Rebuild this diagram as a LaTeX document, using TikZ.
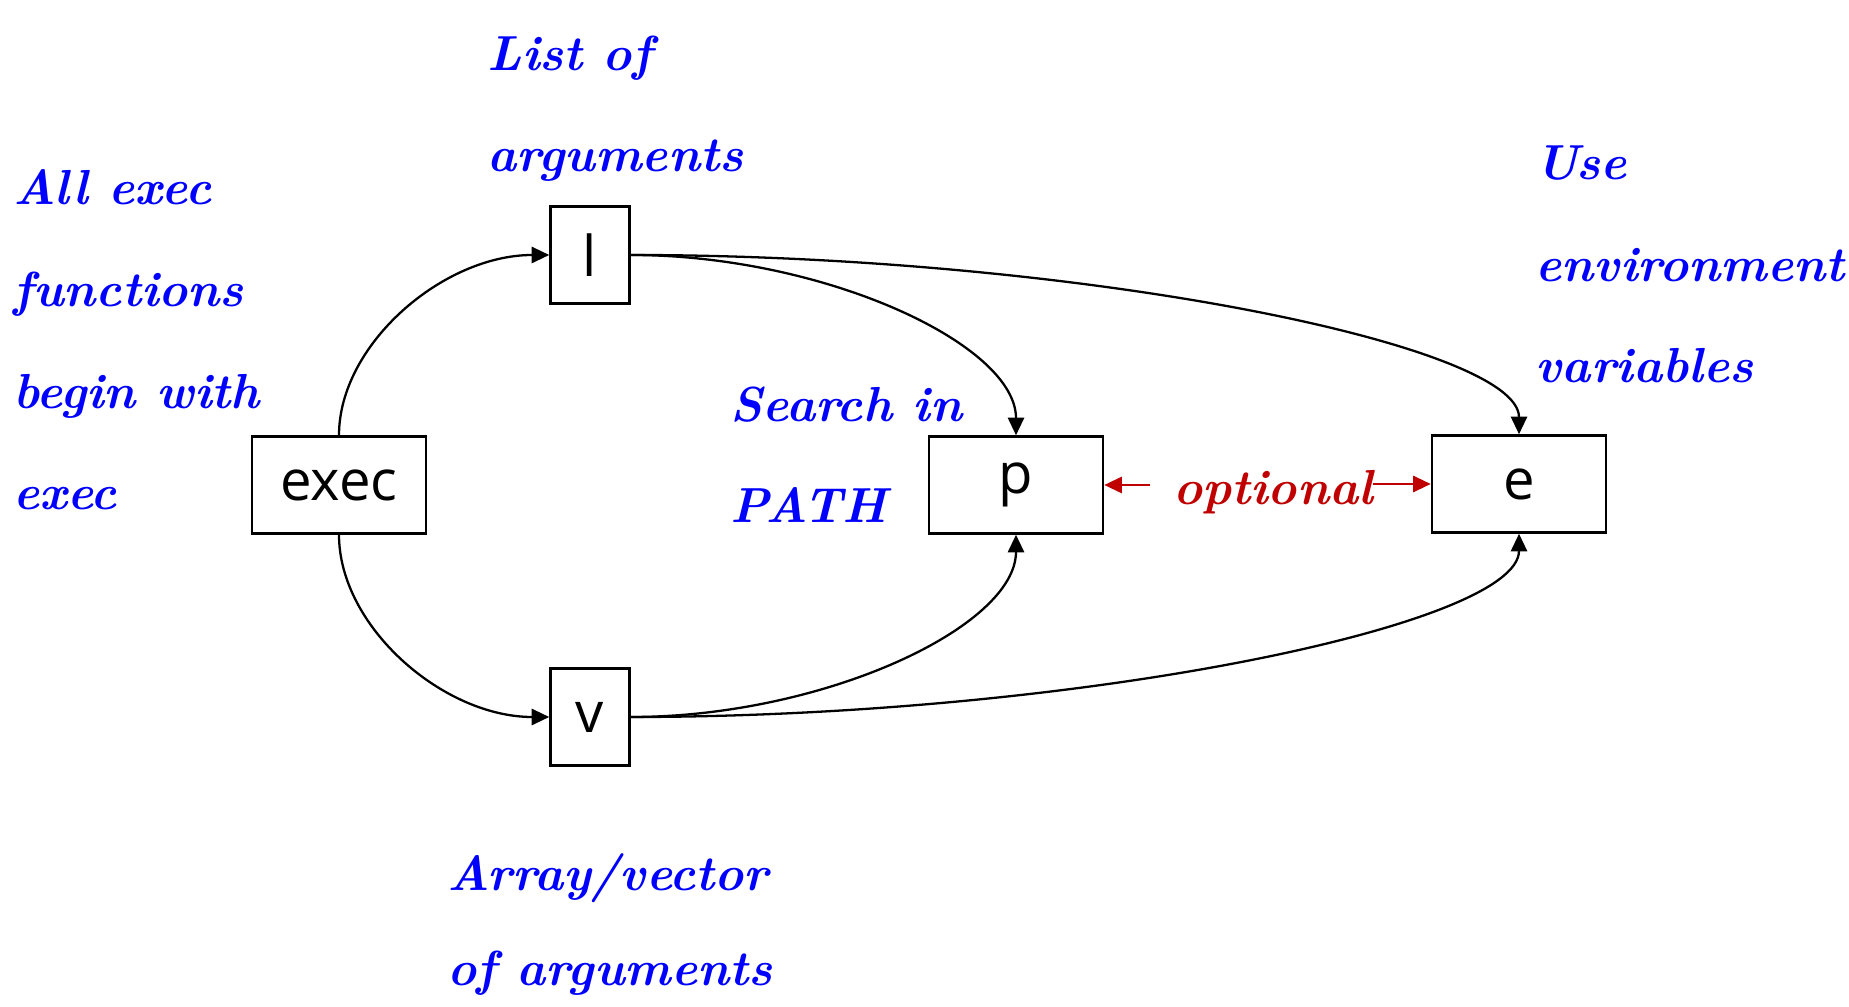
\documentclass[tikz,border=0pt]{standalone}
\usepackage{fontspec}
\newfontfamily\boxfont{Open Sans}
\usetikzlibrary{arrows.meta}
\definecolor{notecol}{HTML}{0000FF}
\definecolor{optcol}{HTML}{C00000}
\tikzset{
  fnbox/.style={draw=black,line width=0.7pt,minimum height=0.97cm,inner sep=0pt,font=\boxfont\fontsize{16}{19}\selectfont},
  widebox/.style={fnbox,minimum width=1.74cm},
  slimbox/.style={fnbox,minimum width=0.79cm},
  vnote/.style={text=notecol,align=left,inner sep=0pt,anchor=base west,font=\fontsize{14}{29}\selectfont\bfseries\itshape},
  varr/.style={-{Triangle[length=5pt,width=4.6pt]},line width=0.65pt,draw=black},
  vopt/.style={-{Triangle[length=5pt,width=4.6pt]},line width=0.65pt,draw=optcol}
}
\begin{document}
\begin{tikzpicture}[x=0.01cm,y=-0.01cm]
  \useasboundingbox (0,0) rectangle (1849,1007);
  % the exec family
  \node[widebox] (exec) at (339,485) {exec};
  \node[slimbox] (l) at (590,255) {l};
  \node[slimbox] (v) at (590,717) {v};
  \node[widebox] (p) at (1016,485) {p};
  \node[widebox] (e) at (1519,484) {e};
  % notes (placed at the baseline of their last line)
  \node[vnote] (nall) at (13,510) {All exec\\ functions\\ begin with\\ exec};
  \node[vnote] (nlist) at (487,172) {List of\\ arguments};
  \node[vnote] (npath) at (730,523) {Search in\\ PATH};
  \node[vnote] (nenv) at (1535,383) {Use\\ environment\\ variables};
  \node[vnote,font=\fontsize{14}{27}\selectfont\bfseries\itshape] (narr) at (447,985) {Array/vector\\ of arguments};
  \node[text=optcol,inner sep=0pt,anchor=base,font=\fontsize{14}{17}\selectfont\bfseries\itshape] (opt) at (1273,505) {optional};
  % connectors
  \draw[varr] (exec.north) .. controls +(0,-91) and +(-106,0) .. (l.west);
  \draw[varr] (exec.south) .. controls +(0,92) and +(-106,0) .. (v.west);
  \draw[varr] (l.east) .. controls +(193,0) and +(0,-91) .. (p.north);
  \draw[varr] (l.east) .. controls +(444,0) and +(0,-90) .. (e.north);
  \draw[varr] (v.east) .. controls +(193,0) and +(0,92) .. (p.south);
  \draw[varr] (v.east) .. controls +(444,0) and +(0,92) .. (e.south);
  \draw[vopt,shorten <=0.23cm] (opt.west |- p.east) -- (p.east);
  \draw[vopt] (opt.east |- e.west) -- (e.west);
\end{tikzpicture}
\end{document}
